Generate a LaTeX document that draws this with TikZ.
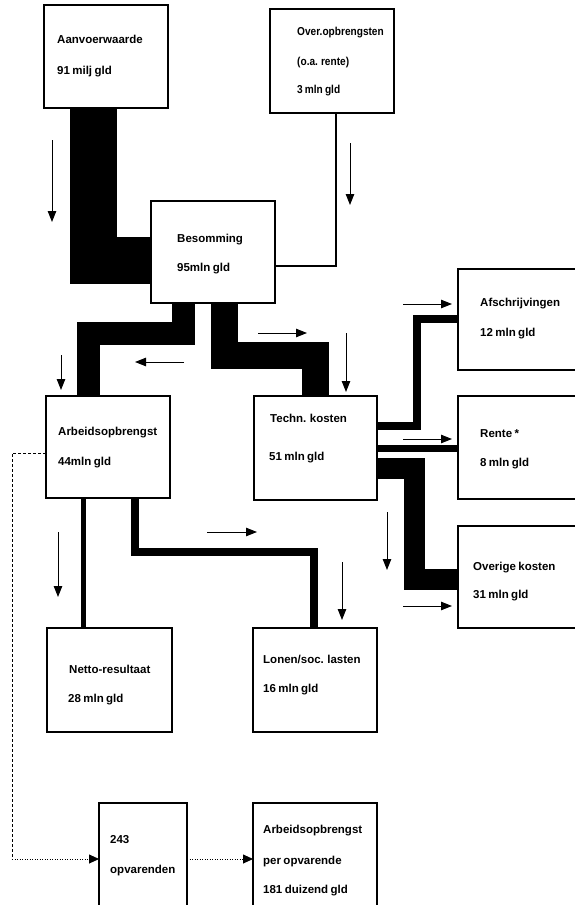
\documentclass[tikz,border=0pt]{standalone}
\usepackage{fontspec}
\usepackage{graphicx}
\setmainfont{Liberation Sans}[WordSpace=0.75]
\usetikzlibrary{calc,arrows.meta,backgrounds}
\begin{document}
\begin{tikzpicture}[x=1pt,y=-1pt,
  box/.style={draw, line width=1.4pt, fill=white, inner sep=0pt, outer sep=0pt, anchor=north west},
  txt/.style={font=\bfseries\fontsize{11.5}{13}\selectfont, anchor=base west, inner sep=0pt},
  band/.style={draw=black, line join=miter, line cap=butt},
  ind/.style={line width=1pt, -{Triangle[length=11pt,width=8.5pt]}},
  dashline/.style={line width=0.9pt, dash pattern=on 3pt off 2pt},
  dotline/.style={line width=0.9pt, dash pattern=on 1pt off 1.5pt},
  dotarrow/.style={dotline, -{Triangle[length=10pt,width=9pt,line width=0.9pt,fill=black]}}]
\useasboundingbox (0,0) rectangle (575,905);
\clip (0,0) rectangle (575,905);
% boxes
\node[box, minimum width=124pt, minimum height=103pt] (aanv) at (44,5) {};
\node[box, minimum width=124pt, minimum height=104pt] (over) at (270,9) {};
\node[box, minimum width=124pt, minimum height=102pt] (besom) at (151,201) {};
\node[box, minimum width=124pt, minimum height=102pt] (arb) at (46,396) {};
\node[box, minimum width=123pt, minimum height=104pt] (techn) at (254,396) {};
\node[box, minimum width=150pt, minimum height=101pt] (afs) at (458,269) {};
\node[box, minimum width=150pt, minimum height=103pt] (rente) at (458,396) {};
\node[box, minimum width=150pt, minimum height=102pt] (oth) at (458,526) {};
\node[box, minimum width=125pt, minimum height=104pt] (netto) at (47,628) {};
\node[box, minimum width=124pt, minimum height=104pt] (lonen) at (253,628) {};
\node[box, minimum width=88pt, minimum height=120pt] (opv) at (99,803) {};
\node[box, minimum width=124pt, minimum height=120pt] (per) at (253,803) {};
% texts
\node[txt] (t1a) at (57,43) {Aanvoerwaarde};
\node[txt] (t1b) at (57,74) {91 milj gld};
\node[txt] (t2a) at (297,35) {\scalebox{0.88}[1]{Over.opbrengsten}};
\node[txt] (t2b) at (297,65) {\scalebox{0.88}[1]{(o.a. rente)}};
\node[txt] (t2c) at (297,93) {\scalebox{0.88}[1]{3 mln gld}};
\node[txt] (t3a) at (177,242) {Besomming};
\node[txt] (t3b) at (177,271) {95mln gld};
\node[txt] (t4a) at (58,435) {Arbeidsopbrengst};
\node[txt] (t4b) at (58,465) {44mln gld};
\node[txt] (t5a) at (270,422) {Techn. kosten};
\node[txt] (t5b) at (269,460) {51 mln gld};
\node[txt] (t6a) at (480,306) {Afschrijvingen};
\node[txt] (t6b) at (480,336) {12 mln gld};
\node[txt] (t7a) at (480,437) {Rente *};
\node[txt] (t7b) at (480,466) {8 mln gld};
\node[txt] (t8a) at (473,570) {Overige kosten};
\node[txt] (t8b) at (473,598) {31 mln gld};
\node[txt] (t9a) at (69,673) {Netto-resultaat};
\node[txt] (t9b) at (68,702) {28 mln gld};
\node[txt] (t10a) at (263,663) {Lonen/soc. lasten};
\node[txt] (t10b) at (263,692) {16 mln gld};
\node[txt] (t11a) at (110,843) {243};
\node[txt] (t11b) at (110,873) {opvarenden};
\node[txt] (t12a) at (263,833) {Arbeidsopbrengst};
\node[txt] (t12b) at (263,864) {per opvarende};
\node[txt] (t12c) at (263,893) {181 duizend gld};
\begin{scope}[on background layer]
\fill[white] (0,0) rectangle (575,905);
% flow bands
\draw[band, line width=47pt] ($(aanv.south west)+(49,0)$) |- ($(besom.south west)+(0,-43)$);
\draw[band, line width=23pt] ($(besom.south west)+(32,0)$) -- ++(0,30.5) -| ($(arb.north west)+(42.5,0)$);
\draw[band, line width=27pt] ($(besom.south west)+(73.5,0)$) -- ++(0,52.5) -| ($(techn.north west)+(61.5,0)$);
\draw[band, line width=8pt] ($(techn.north east)+(0,29.5)$) -- ++(40,0) |- ($(afs.north west)+(0,50)$);
\draw[band, line width=7pt] ($(techn.north east)+(0,52.5)$) -- ($(rente.north west)+(0,52.5)$);
\draw[band, line width=21pt] ($(techn.north east)+(0,72.5)$) -- ++(37,0) |- ($(oth.north west)+(0,53)$);
\draw[band, line width=5pt] ($(arb.south west)+(37.5,0)$) -- ($(netto.north west)+(36.5,0)$);
\draw[band, line width=8pt] ($(arb.south west)+(89,0)$) -- ++(0,53.5) -| ($(lonen.north west)+(61,0)$);
\draw[band, line width=2.8pt] ($(over.south west)+(66,0)$) |- ($(besom.north east)+(0,65)$);
\end{scope}
% dashed / dotted link
\coordinate (dc) at (12,859);
\draw[dashline] ($(arb.north west)+(0,57)$) -| (dc);
\draw[dotarrow] (dc) -- (dc -| opv.west);
\draw[dotarrow] ($(opv.north east)+(0,56)$) -- ($(per.north west)+(0,56)$);
% direction arrows
\draw[ind] (52,140) -- (52,222);
\draw[ind] (350,143) -- (350,205);
\draw[ind] (61,355) -- (61,390);
\draw[ind] (184,362) -- (135,362);
\draw[ind] (258,333) -- (307,333);
\draw[ind] (346,333) -- (346,392);
\draw[ind] (403,304) -- (452,304);
\draw[ind] (403,439) -- (452,439);
\draw[ind] (387,512) -- (387,570);
\draw[ind] (403,606) -- (452,606);
\draw[ind] (58,532) -- (58,597);
\draw[ind] (207,532) -- (257,532);
\draw[ind] (342,562) -- (342,620);
\end{tikzpicture}
\end{document}
